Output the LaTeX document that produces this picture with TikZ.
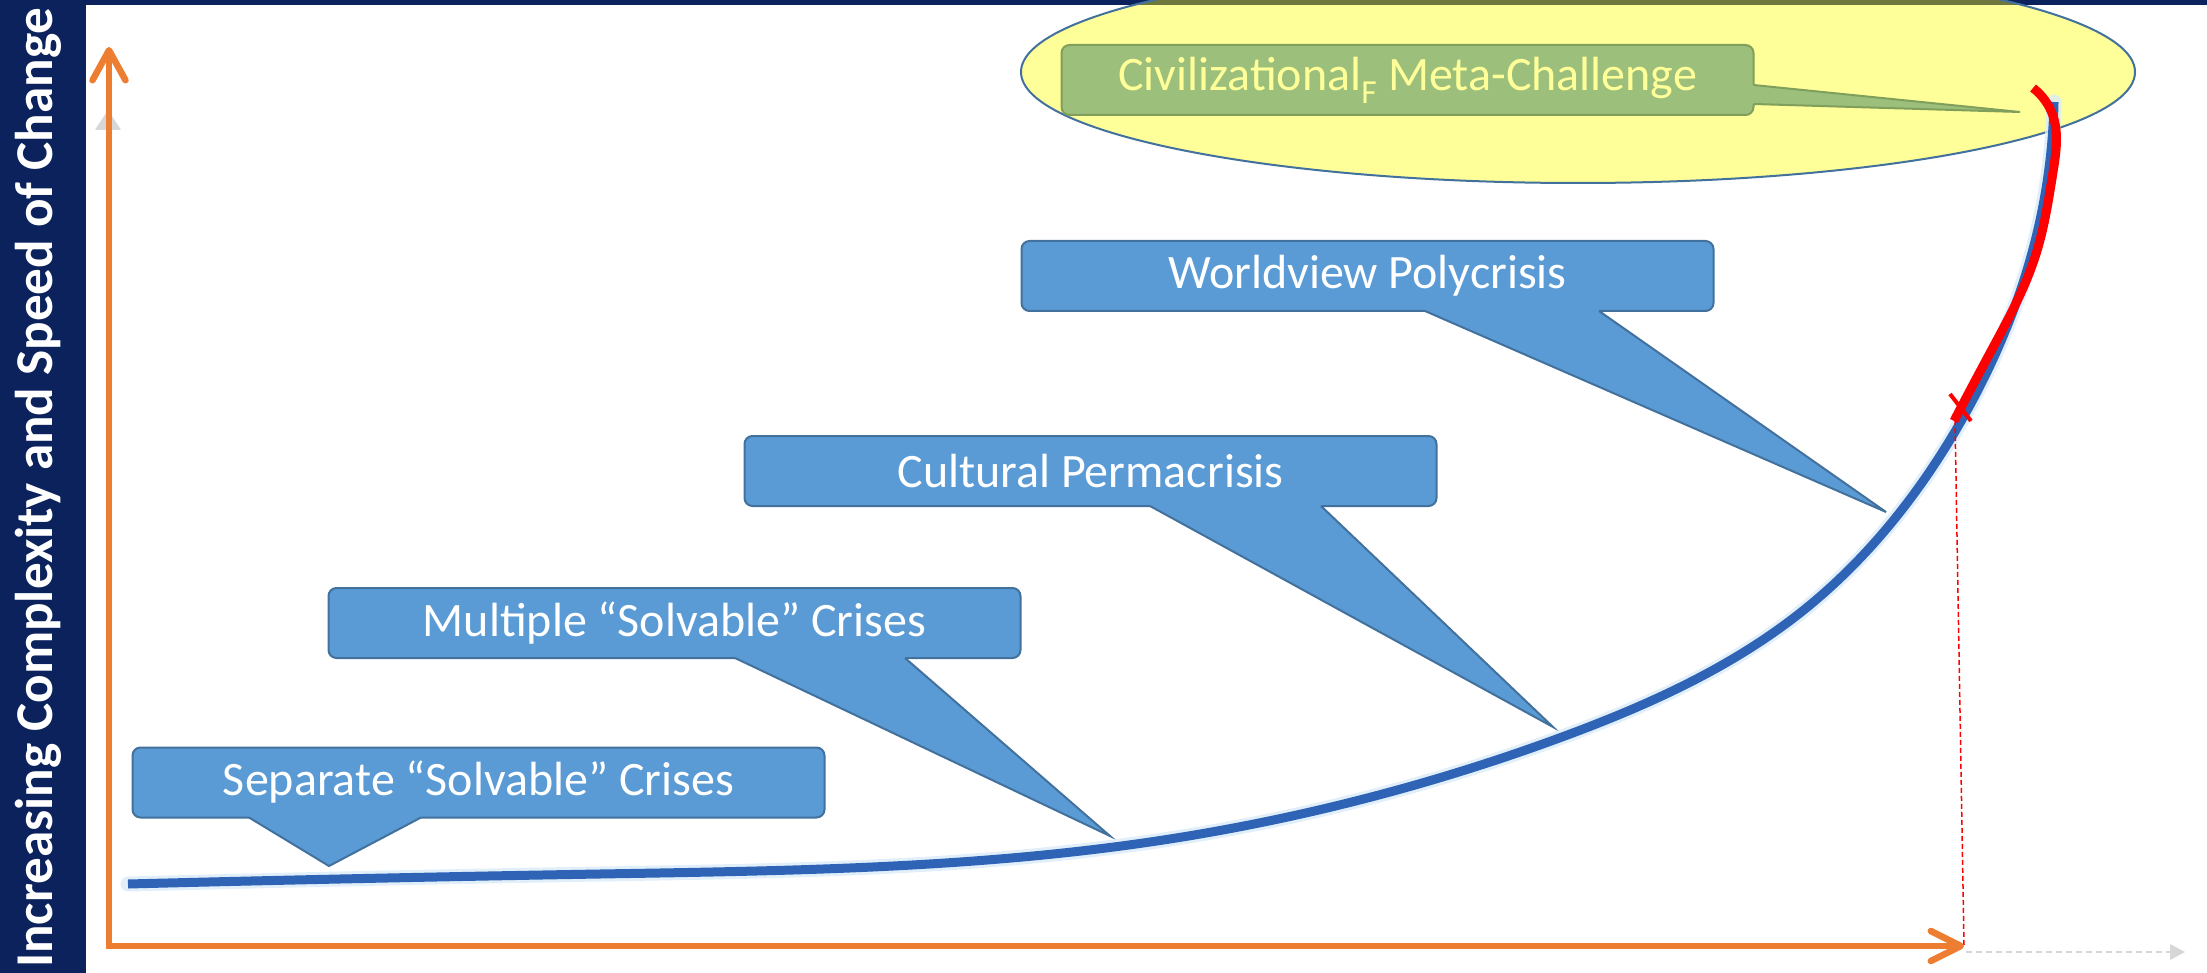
\documentclass[tikz,border=0pt]{standalone}
\usepackage{fontspec}
\usepackage{graphicx}
\setmainfont{Carlito}
\usetikzlibrary{arrows.meta,hobby}
\definecolor{navy}{RGB}{11,34,92}
\definecolor{axisor}{RGB}{237,125,49}
\definecolor{cfill}{RGB}{91,155,213}
\definecolor{cline}{RGB}{65,113,156}
\definecolor{gfill}{RGB}{157,191,124}
\definecolor{gline}{RGB}{128,158,92}
\definecolor{ltyellow}{RGB}{255,255,153}
\definecolor{curveblue}{RGB}{47,99,181}
\definecolor{glowblue}{RGB}{218,236,250}
\definecolor{olivetop}{RGB}{112,120,62}
\definecolor{ghost}{RGB}{215,215,215}
\begin{document}
\begin{tikzpicture}[x=1pt,y=-1pt,
  box/.style={rectangle, rounded corners=8pt, minimum width=692pt, minimum height=70pt,
    inner sep=0pt, line width=2pt, font=\fontsize{48}{52}\selectfont},
  bluebox/.style={box, fill=cfill, draw=cline, text=white},
  greenbox/.style={box, fill=gfill, draw=gline, text=ltyellow},
  tailfill/.style={fill=cfill},
  tailline/.style={draw=cline, line width=2pt, line join=miter},
  axisline/.style={draw=axisor, line width=6.5pt, line join=miter,
    {Straight Barb[length=30pt,width=33pt,round]}-{Straight Barb[length=30pt,width=30pt,round]}},
  curvestyle/.style={curveblue, line width=9pt},
  redcurve/.style={red, line width=9pt},
]
\useasboundingbox (0,0) rectangle (2207,973);
% background
\fill[navy] (0,0) rectangle (2207,973);
\fill[white] (86,5) rectangle (2207,973);

% ellipse
\begin{scope}
  \clip (0,0) rectangle (2207,973);
  \fill[ltyellow] (1578,72) ellipse [x radius=557pt, y radius=111pt];
  \begin{scope}
    \clip (1578,72) ellipse [x radius=557pt, y radius=111pt];
    \fill[olivetop] (1000,0) rectangle (2207,5);
  \end{scope}
  \draw[cline, line width=2pt] (1578,72) ellipse [x radius=557pt, y radius=111pt];
\end{scope}

% green callout
\node[greenbox] (civ) at (1407.5,80) {Civilizational\textsubscript{F} Meta-Challenge};
\coordinate (civtip) at (2020,112);
\fill[gfill] (1748,85) -- (1753.5,85) -- (civtip) -- (1753.5,104) -- (1748,104) -- cycle;
\draw[draw=gline, line width=2pt] (1753.5,85) -- (civtip) -- (1753.5,104);

% blue callouts
\node[bluebox] (sep) at (478.5,782.5) {Separate “Solvable” Crises};
\coordinate (septip) at (329,866);
\fill[tailfill] (249,812) -- (249,817.5) -- (septip) -- (421,817.5) -- (421,812) -- cycle;
\draw[tailline] (249,817.5) -- (septip) -- (421,817.5);

\node[bluebox] (mult) at (674.5,623) {Multiple “Solvable” Crises};
\coordinate (multtip) at (1110,836);
\fill[tailfill] (735,653) -- (735,658) -- (multtip) -- (905,658) -- (905,653) -- cycle;
\draw[tailline] (735,658) -- (multtip) -- (905,658);

\node[bluebox] (cult) at (1090.5,471) {Cultural Permacrisis};
\coordinate (culttip) at (1553,727);
\fill[tailfill] (1150,501) -- (1150,506) -- (culttip) -- (1321,506) -- (1321,501) -- cycle;
\draw[tailline] (1150,506) -- (culttip) -- (1321,506);

\node[bluebox] (world) at (1367.5,276) {Worldview Polycrisis};
\coordinate (worldtip) at (1886,512);
\fill[tailfill] (1425,306) -- (1425,311) -- (worldtip) -- (1599,311) -- (1599,306) -- cycle;
\draw[tailline] (1425,311) -- (worldtip) -- (1599,311);

% ghost axis
\fill[ghost] (95,130) -- (121,130) -- (108,110) -- cycle;
\draw[ghost, line width=1.5pt, dash pattern=on 6pt off 4pt] (1966,952) -- (2170,952);
\fill[ghost] (2170,944) -- (2185,952) -- (2170,960) -- cycle;

% growth curve
\def\growth{(128,884) .. (600,874) .. (1150,842) .. (1562,737)
 .. (1800,613) .. (1960,423) .. (2040,220) .. (2054,102)}
\draw[glowblue, line width=15pt, line cap=round, opacity=0.8, use Hobby shortcut] \growth;
\draw[curvestyle, use Hobby shortcut] \growth;

% red marker
\coordinate (redend) at (1955,420);
\coordinate (xtip) at (1964,946);
\draw[red, line width=1.5pt, dash pattern=on 5pt off 3pt] (redend) -- (xtip);
\draw[redcurve, use Hobby shortcut] (2033,88) .. (2053,116) .. (2053,172)
 .. (2036,254) .. (1990,353) .. (1954,421);
\draw[red, line width=4pt] (1950,394) -- (1971,421);

% axes
\coordinate (ytip) at (109,47);
\coordinate (orig) at (109,946);
\draw[axisline] (ytip) -- (orig) -- (xtip);

% vertical label
\node[rotate=90, anchor=base west, inner sep=0pt, text=white, font=\bfseries] (ylabel)
  at (52,968) {\resizebox{960pt}{!}{Increasing Complexity and Speed of Change}};
\end{tikzpicture}
\end{document}
